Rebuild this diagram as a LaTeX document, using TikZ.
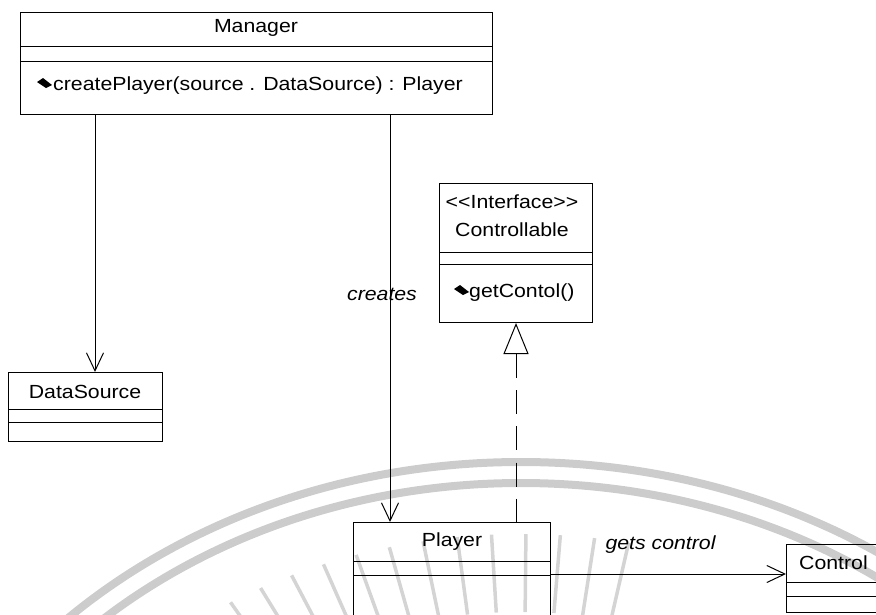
\documentclass[tikz,border=0pt]{standalone}
\usepackage{fontspec}
\setmainfont[FakeStretch=1.12]{Liberation Sans}
\usetikzlibrary{arrows.meta}

\begin{document}
\begin{tikzpicture}[x=1pt,y=-1pt,
  classbox/.style={draw, line width=1pt, rectangle, anchor=north west, inner sep=0pt},
  lbl/.style={font=\fontsize{19}{22}\selectfont, inner sep=0pt},
  rel/.style={font=\fontsize{19}{22}\selectfont\itshape, inner sep=0pt},
  wire/.style={line width=1pt},
  openhead/.style={-{Straight Barb[length=18pt,width=17pt,line width=1pt]}},
  realize/.style={wire, dash pattern=on 24pt off 12.25pt,
    {Triangle[open,length=31pt,width=25pt,line width=1pt]}-},
  seal/.style={draw=black!20, line width=8pt},
  sealray/.style={draw=black!17, line width=3.5pt},
  opicon/.pic={\fill (0,0) -- (6,-4) -- (15,3) -- (9,6) -- cycle;}
]
\useasboundingbox (0,0) rectangle (876,614);
\clip (0,0) rectangle (876,614);

% faint seal in the background
\draw[seal] (521,1012) ellipse[x radius=649, y radius=550];
\draw[seal] (521,1012) ellipse[x radius=624, y radius=529];
\foreach \a in {-31,-27.5,...,13}
  \draw[sealray] ({521+1.18*400*sin(\a)},{1012-400*cos(\a)}) -- ({521+1.18*478*sin(\a)},{1012-478*cos(\a)});

% Manager
\node[classbox, minimum width=472pt, minimum height=102pt] (manager) at (20,12) {};
\draw[wire] (20,46) -- (492,46);
\draw[wire] (20,61) -- (492,61);
\node[lbl] (managername) at (256,28) {Manager};
\pic at (37,82) {opicon};
\node[lbl, anchor=west] (createop) at (53,86) {createPlayer(source . DataSource) : Player};

% Controllable interface
\node[classbox, minimum width=153pt, minimum height=139pt] (controllable) at (439,183) {};
\draw[wire] (439,252) -- (592,252);
\draw[wire] (439,264) -- (592,264);
\node[lbl] (stereo) at (512,202) {<{}<Interface>{}>};
\node[lbl] (ctrlname) at (512,230) {Controllable};
\pic at (454,289) {opicon};
\node[lbl, anchor=west] (getop) at (469,293) {getContol()};

% DataSource
\node[classbox, minimum width=154pt, minimum height=69pt] (datasource) at (8,372) {};
\draw[wire] (8,409) -- (162,409);
\draw[wire] (8,422) -- (162,422);
\node[lbl] (dsname) at (85,392) {DataSource};

% Player
\node[classbox, minimum width=197pt, minimum height=110pt] (player) at (353,522) {};
\draw[wire] (353,561) -- (550,561);
\draw[wire] (353,575) -- (550,575);
\node[lbl] (playername) at (452,542) {Player};

% Control
\node[classbox, minimum width=120pt, minimum height=68pt] (control) at (786,544) {};
\draw[wire] (786,582) -- (906,582);
\draw[wire] (786,596) -- (906,596);
\node[lbl, anchor=west] (controlname) at (799,563) {Control};

% connectors
\coordinate (dsx) at (95,0);
\coordinate (plx) at (390,0);
\coordinate (rzx) at (516,0);
\coordinate (gcy) at (0,574);

\draw[wire, openhead] (manager.south -| dsx) -- (datasource.north -| dsx);
\draw[wire, openhead] (manager.south -| plx) -- (player.north -| plx)
  node[rel, pos=0.44, xshift=-8pt] {creates};
\draw[realize] (controllable.south -| rzx) -- (player.north -| rzx);
\draw[wire, openhead] (player.east |- gcy) -- (control.west |- gcy)
  node[rel, pos=0.466, yshift=29pt] {gets control};
\end{tikzpicture}
\end{document}
